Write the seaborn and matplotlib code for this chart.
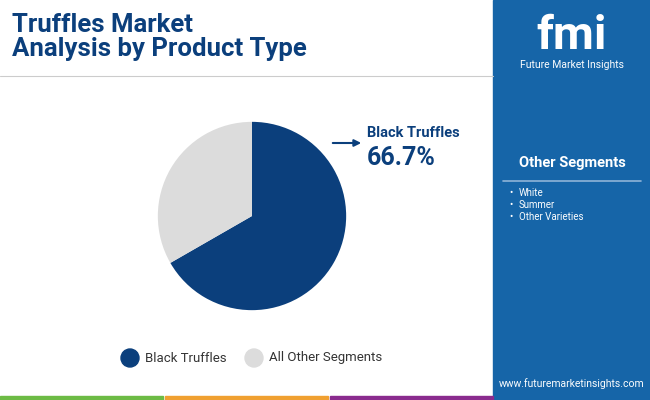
import matplotlib.pyplot as plt
import seaborn as sns
from matplotlib.patches import Rectangle, Ellipse

segments = ['Black Truffles', 'All Other Segments']
shares = [66.7, 33.3]
colors = ['#0b3f7c', '#dcdcdc']
other_items = ['White', 'Summer', 'Other Varieties']

sns.set_style('white')
plt.rcParams['font.family'] = 'Roboto'
fig = plt.figure(figsize=(6.5, 4), dpi=100)

# right side panel
fig.patches.append(Rectangle((493/650, 0), 157/650, 1, transform=fig.transFigure, color='#1665a8', zorder=0))
fig.text(572/650, 1 - 36/400, 'fmi', color='white', fontsize=34, fontweight='bold', ha='center', va='center')
fig.text(572/650, 1 - 65/400, 'Future Market Insights', color='white', fontsize=7.5, ha='center', va='center')
fig.text(572/650, 1 - 163/400, 'Other Segments', color='white', fontsize=10.5, fontweight='bold', ha='center', va='center')
fig.lines.append(plt.Line2D([503/650, 641/650], [1 - 181/400] * 2, transform=fig.transFigure, color='#8fb4d8', lw=1.2))
for i, item in enumerate(other_items):
    y = 1 - (193 + i * 12) / 400
    fig.text(509/650, y, '\u2022', color='white', fontsize=7, va='center')
    fig.text(519/650, y, item, color='white', fontsize=7, va='center')
fig.text(572/650, 1 - 384/400, 'www.futuremarketinsights.com', color='white', fontsize=7.5, ha='center', va='center')

# title and separator
fig.text(12/650, 1 - 37/400, 'Truffles Market\nAnalysis by Product Type', color='#0b3f7c', fontsize=18.5,
         fontweight='bold', ha='left', va='center', linespacing=1.05)
fig.lines.append(plt.Line2D([0, 493/650], [1 - 76/400] * 2, transform=fig.transFigure, color='#cccccc', lw=0.8))

# bottom stripe
for x0, c in [(0, '#6dbb45'), (165, '#f0a030'), (330, '#8a2b8e')]:
    fig.patches.append(Rectangle((x0/650, 0), 163/650, 4/400, transform=fig.transFigure, color=c))

# pie
half = 107 * 1.1
ax = fig.add_axes([(252 - half)/650, (400 - 216 - half)/400, 2 * half/650, 2 * half/400])
ax.pie(shares, colors=colors, startangle=90, counterclock=False, wedgeprops=dict(linewidth=0))
ax.set_aspect('equal')
fig.add_artist(plt.Annotation('', xy=(364/650, 1 - 143/400), xytext=(330/650, 1 - 143/400),
                              xycoords='figure fraction', textcoords='figure fraction',
                              arrowprops=dict(arrowstyle='-|>', color='#0b3f7c', lw=1.5, mutation_scale=10)))
fig.text(367/650, 1 - 133/400, segments[0], color='#0b3f7c', fontsize=10.5, fontweight='bold', va='center')
fig.text(367/650, 1 - 158/400, f'{shares[0]}%', color='#0b3f7c', fontsize=18, fontweight='bold', va='center')

# legend
for x, lab, c in [(130, segments[0], colors[0]), (254, segments[1], colors[1])]:
    fig.patches.append(Ellipse((x/650, 1 - 358/400), 18/650, 18/400, transform=fig.transFigure, color=c))
    fig.text((x + 15)/650, 1 - 358/400, lab, fontsize=9.5, color='#333333', va='center')

fig.savefig('out.png', dpi=100)
